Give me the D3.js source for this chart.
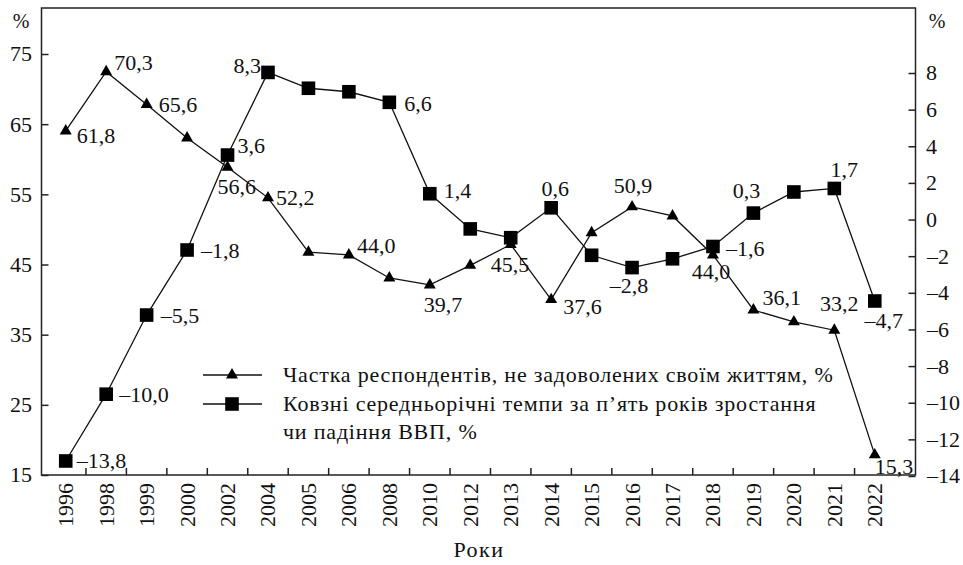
<!DOCTYPE html>
<html>
<head>
<meta charset="utf-8">
<script src="https://cdn.jsdelivr.net/npm/d3@7"></script>
<style>
  body { margin: 0; background: #fff; }
</style>
</head>
<body>
<div id="chart"></div>
<script>
// Years on the x axis
const years = ["1996", "1998", "1999", "2000", "2002", "2004", "2005", "2006", "2008", "2010", "2012",
               "2013", "2014", "2015", "2016", "2017", "2018", "2019", "2020", "2021", "2022"];

// Share of respondents not satisfied with their life, % (left axis)
const dissatisfied = [61.8, 70.3, 65.6, 60.8, 56.6, 52.2, 44.4, 44.0, 40.7, 39.7, 42.5,
                      45.5, 37.6, 47.2, 50.9, 49.6, 44.0, 36.1, 34.4, 33.2, 15.3];

// Five-year moving average GDP growth / decline, % (right axis)
const gdpGrowth = [-13.8, -10.0, -5.5, -1.8, 3.6, 8.3, 7.4, 7.2, 6.6, 1.4, -0.6,
                   -1.1, 0.6, -2.1, -2.8, -2.3, -1.6, 0.3, 1.5, 1.7, -4.7];

const leftTicks = [15, 25, 35, 45, 55, 65, 75];
const rightTicks = [-14, -12, -10, -8, -6, -4, -2, 0, 2, 4, 6, 8];

const legendLabels = ["Частка респондентів, не задоволених своїм життям, %",
                      "Ковзні середньорічні темпи за п’ять років зростання",
                      "чи падіння ВВП, %"];

// label placement for each point: [dx, dy of text centre, anchor] or null (no label)
const triLabelPos = [[11, 5, "start"], [8, -9, "start"], [12, 0, "start"], null, [-10, 19, "start"],
  [8, 0, "start"], null, [8, -9, "start"], null, [-6, 20, "start"], null,
  [-20, 20, "start"], [12, 7, "start"], null, [1, -21, "middle"], null, [-2, 17, "middle"],
  [9, -12, "start"], null, [5, -27, "middle"], [0, 12, "start"]];
const sqLabelPos = [[11, 0, "start"], [13, 0, "start"], [14, 0, "start"], [14, 1, "start"], [10, -10, "start"],
  [-7, -7, "end"], null, null, [15, 1, "start"], [14, -3, "start"], null,
  null, [4, -19, "middle"], null, [-3, 18, "middle"], null, [13, 2, "start"],
  [-7, -23, "middle"], null, [10, -19, "middle"], [9, 20, "middle"]];

const width = 963, height = 565;
const fs = 22; // font size
const serif = "'Liberation Serif', 'DejaVu Serif', serif";
const plotL = 41.5, plotR = 915.5, plotT = 8, plotB = 475;

const svg = d3.select("#chart").append("svg")
    .attr("width", width)
    .attr("height", height)
    .style("font-family", serif);

const x = d3.scaleBand().domain(years).range([45.5, 895]);
const cx = d => x(d) + x.bandwidth() / 2;

// axis scales as printed, and the scales the series were drawn with
const yLeftAxis = d3.scaleLinear().domain([15, 75]).range([plotB, 54]);
const yRightAxis = d3.scaleLinear().domain([-14, 8]).range([476, 73]);
const yLeft = d3.scaleLinear().domain([15, 75]).range([457, 39]);
const yRight = d3.scaleLinear().domain([-14, 8]).range([464.5, 77.7]);

const fmt = v => (v < 0 ? "–" : "") + Math.abs(v).toFixed(1).replace(".", ",");
const tickFmt = v => (v < 0 ? "–" : "") + Math.abs(v);

function addText(sel, str, size) {
    return sel.append("text")
        .style("font-family", serif)
        .style("font-size", (size || fs) + "px")
        .attr("fill", "#111")
        .text(str);
}

// frame
svg.append("rect")
    .attr("x", plotL).attr("y", plotT)
    .attr("width", plotR - plotL).attr("height", plotB - plotT)
    .attr("fill", "none")
    .attr("stroke", "#222")
    .attr("stroke-width", 1.5);

// left axis
const gl = svg.append("g").attr("transform", `translate(${plotL},0)`)
    .call(d3.axisRight(yLeftAxis).tickValues(leftTicks).tickSize(7).tickFormat(""));
gl.select(".domain").remove();
gl.selectAll("line").attr("stroke", "#222").attr("stroke-width", 1.5);
leftTicks.forEach(t => {
    addText(svg, t)
        .attr("x", 32).attr("y", yLeftAxis(t) + fs * 0.34)
        .attr("text-anchor", "end");
});

// right axis
const gr = svg.append("g").attr("transform", `translate(${plotR},0)`)
    .call(d3.axisLeft(yRightAxis).tickValues(rightTicks).tickSize(7).tickFormat(""));
gr.select(".domain").remove();
gr.selectAll("line").attr("stroke", "#222").attr("stroke-width", 1.5);
rightTicks.forEach(t => {
    addText(svg, tickFmt(t))
        .attr("x", t < 0 ? 927 : 926)
        .attr("y", yRightAxis(t) + fs * 0.34)
        .attr("text-anchor", "start");
});

// % units
addText(svg, "%", 20).attr("x", 21).attr("y", 28).attr("text-anchor", "middle");
addText(svg, "%", 20).attr("x", 937).attr("y", 28).attr("text-anchor", "middle");

// x axis: ticks between categories, pointing up
years.slice(1).forEach(yr => {
    svg.append("line")
        .attr("x1", x(yr)).attr("x2", x(yr))
        .attr("y1", plotB).attr("y2", plotB - 7)
        .attr("stroke", "#222").attr("stroke-width", 1.5);
});
years.forEach(yr => {
    const px = cx(yr) + fs * 0.34;
    addText(svg, yr)
        .attr("transform", `translate(${px},483) rotate(-90)`)
        .attr("text-anchor", "end");
});
addText(svg, "Роки")
    .attr("x", 479).attr("y", 557)
    .attr("text-anchor", "middle")
    .style("letter-spacing", "1.5px");

// GDP series (squares)
const sqLine = d3.line().x((d, i) => cx(years[i])).y(d => yRight(d));
svg.append("path")
    .attr("d", sqLine(gdpGrowth))
    .attr("fill", "none").attr("stroke", "#111").attr("stroke-width", 1.3);
const sqSym = d3.symbol(d3.symbolSquare, 185);
svg.selectAll(".sq").data(gdpGrowth).join("path")
    .attr("class", "sq")
    .attr("d", sqSym)
    .attr("transform", (d, i) => `translate(${cx(years[i])},${yRight(d)})`)
    .attr("fill", "#000");

// dissatisfied series (triangles)
const triLine = d3.line().x((d, i) => cx(years[i])).y(d => yLeft(d));
svg.append("path")
    .attr("d", triLine(dissatisfied))
    .attr("fill", "none").attr("stroke", "#111").attr("stroke-width", 1.3);
const triSym = d3.symbol(d3.symbolTriangle, 62);
svg.selectAll(".tri").data(dissatisfied).join("path")
    .attr("class", "tri")
    .attr("d", triSym)
    .attr("transform", (d, i) => `translate(${cx(years[i])},${yLeft(d)})`)
    .attr("fill", "#000");

// value labels
gdpGrowth.forEach((v, i) => {
    const p = sqLabelPos[i];
    if (!p) return;
    addText(svg, fmt(v))
        .attr("x", cx(years[i]) + p[0])
        .attr("y", yRight(v) + p[1] + fs * 0.34)
        .attr("text-anchor", p[2]);
});
dissatisfied.forEach((v, i) => {
    const p = triLabelPos[i];
    if (!p) return;
    addText(svg, fmt(v))
        .attr("x", cx(years[i]) + p[0])
        .attr("y", yLeft(v) + p[1] + fs * 0.34)
        .attr("text-anchor", p[2]);
});

// legend
const legend = svg.append("g");
[[375, triSym], [404, sqSym]].forEach(([ly, sym]) => {
    legend.append("line")
        .attr("x1", 203).attr("x2", 262).attr("y1", ly).attr("y2", ly)
        .attr("stroke", "#111").attr("stroke-width", 1.3);
    legend.append("path")
        .attr("d", sym)
        .attr("transform", `translate(232,${ly})`)
        .attr("fill", "#000");
});
legendLabels.forEach((t, i) => {
    addText(legend, t)
        .attr("x", 283).attr("y", [375, 404, 432][i] + 7)
        .style("letter-spacing", "0.8px");
});
</script>
</body>
</html>
